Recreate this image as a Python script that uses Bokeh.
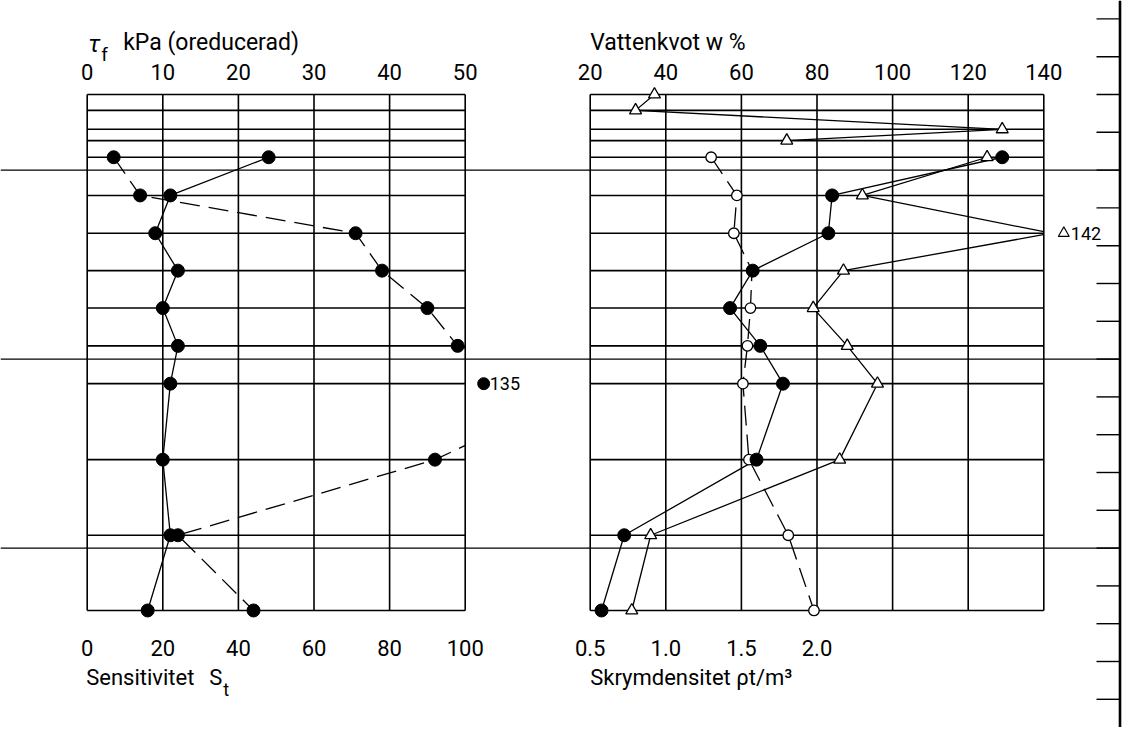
import numpy as np
from bokeh.plotting import figure
from bokeh.models import Range1d
from bokeh.core.properties import value
from bokeh.embed import file_html
from bokeh.resources import INLINE

# ---------------- data ----------------
grid_depths = [0.0, 0.42, 0.92, 1.22, 1.66, 2.67, 3.67, 4.66, 5.65, 6.65, 7.65, 9.66, 11.66, 13.65]
sample_depth = [1.66, 2.67, 3.67, 4.66, 5.65, 6.65, 7.65, 9.66, 11.66, 13.65]
tau_f = [24, 11, 9, 12, 10, 12, 11, 10, 11, 8]                    # kPa (oreducerad)
sensitivity = [7, 14, 71, 78, 90, 98, 135, 92, 24, 44]            # St
w_natural = [129, 84, 83, 63, 57, 65, 71, 64, 29, 23]             # w %
bulk_density = [1.30, 1.47, 1.45, 1.57, 1.56, 1.54, 1.51, 1.55, 1.81, 1.98]  # t/m3
wl_top_depth = [0.0, 0.42, 0.92, 1.22]
wl_top = [37, 32, 129, 72]
w_liquid = [125, 92, 142, 87, 79, 88, 96, 86, 36, 31]

tau_ticks = [0, 10, 20, 30, 40, 50]
st_ticks = [0, 20, 40, 60, 80, 100]
w_ticks = [20, 40, 60, 80, 100, 120, 140]
rho_ticks = [0.5, 1.0, 1.5, 2.0]
rho_tick_labels = ["0.5", "1.0", "1.5", "2.0"]
level_ticks = list(range(-3, 18))
level_lines = [2, 7, 12]

# ---------------- layout (pixels inside the figure) ----------------
W, H = 1125, 727
PX_M = 37.8          # px per metre
TOP = 94.0           # px of depth 0
LEFT_X0 = 86.7       # px of left panel start
RIGHT_X0 = 589.7     # px of right panel start
COL = 75.6           # px per grid column
OUT_PX = 18.5        # px beyond panel edge for off-scale markers
AXIS_PX = 1119.5     # right level axis
TICK_PX = 1096.0

tau_upp = 10 / COL
st_upp = 20 / COL
w_upp = 20 / COL
rho_upp = 0.5 / COL


def lin_range(v0, px0, upp):
    start = v0 - px0 * upp
    return Range1d(start, start + W * upp)


def w_at(px):
    return w_ticks[0] + (px - RIGHT_X0) * w_upp


def depth_at(px):
    return (px - TOP) / PX_M


bottom = grid_depths[-1]
y_top = depth_at(0)
y_bot = depth_at(H)

p = figure(width=W, height=H,
           x_range=lin_range(tau_ticks[0], LEFT_X0, tau_upp),
           y_range=Range1d(y_bot, y_top),
           output_backend="svg", toolbar_location=None, min_border=0,
           x_axis_location=None, y_axis_location=None,
           outline_line_color=None, background_fill_color="white",
           border_fill_color="white")
p.grid.visible = False
p.extra_x_ranges = {
    "st": lin_range(st_ticks[0], LEFT_X0, st_upp),
    "w": lin_range(w_ticks[0], RIGHT_X0, w_upp),
    "rho": lin_range(rho_ticks[0], RIGHT_X0, rho_upp),
}

LW = 1.3
DASH = "20 9"
FONT = value("Roboto")

# ---------------- left panel lines, then clip at its right edge ----------------
p.line(tau_f, sample_depth, line_color="black", line_width=LW)
p.line(sensitivity, sample_depth, x_range_name="st", line_color="black",
       line_width=LW, line_dash=DASH)
p.quad(left=[w_at(LEFT_X0 + 5 * COL)], right=[w_at(AXIS_PX - 3)],
       bottom=[bottom], top=[grid_depths[0]],
       x_range_name="w", fill_color="white", line_color=None)

# ---------------- right panel lines, then clip at its right edge ----------------
p.line(w_natural, sample_depth, x_range_name="w", line_color="black", line_width=LW)
p.line(bulk_density, sample_depth, x_range_name="rho", line_color="black",
       line_width=LW, line_dash=DASH)
p.line(wl_top, wl_top_depth, x_range_name="w", line_color="black", line_width=LW)
p.line(w_liquid, sample_depth, x_range_name="w", line_color="black", line_width=LW)
p.quad(left=[w_ticks[-1]], right=[w_at(AXIS_PX - 3)],
       bottom=[bottom], top=[grid_depths[0]],
       x_range_name="w", fill_color="white", line_color=None)

# ---------------- grids ----------------
GW = 1.6
p.segment(x0=tau_ticks, x1=tau_ticks, y0=[grid_depths[0]] * len(tau_ticks),
          y1=[bottom] * len(tau_ticks), line_color="black", line_width=GW)
p.segment(x0=[tau_ticks[0]] * len(grid_depths), x1=[tau_ticks[-1]] * len(grid_depths),
          y0=grid_depths, y1=grid_depths, line_color="black", line_width=GW)
p.segment(x0=w_ticks, x1=w_ticks, y0=[grid_depths[0]] * len(w_ticks),
          y1=[bottom] * len(w_ticks), x_range_name="w", line_color="black", line_width=GW)
p.segment(x0=[w_ticks[0]] * len(grid_depths), x1=[w_ticks[-1]] * len(grid_depths),
          y0=grid_depths, y1=grid_depths, x_range_name="w",
          line_color="black", line_width=GW)

# long level lines and right level axis
p.segment(x0=[w_at(0)] * len(level_lines), x1=[w_at(AXIS_PX)] * len(level_lines),
          y0=level_lines, y1=level_lines, x_range_name="w",
          line_color="black", line_width=1.3)
p.segment(x0=[w_at(TICK_PX)] * len(level_ticks), x1=[w_at(AXIS_PX)] * len(level_ticks),
          y0=level_ticks, y1=level_ticks, x_range_name="w",
          line_color="black", line_width=1.4)
p.segment(x0=[w_at(AXIS_PX)], x1=[w_at(AXIS_PX)], y0=[y_top], y1=[y_bot],
          x_range_name="w", line_color="black", line_width=2.6)

# ---------------- markers ----------------
p.scatter(tau_f, sample_depth, size=13, color="black")

depth_arr = np.array(sample_depth)
st = np.array(sensitivity, dtype=float)
st_in = st <= st_ticks[-1]
p.scatter(st[st_in], depth_arr[st_in], x_range_name="st", size=13, color="black")
st_out_x = st_ticks[-1] + OUT_PX * st_upp
n_st_out = int((~st_in).sum())
p.scatter([st_out_x] * n_st_out, depth_arr[~st_in], x_range_name="st", size=12, color="black")
p.text([st_out_x] * n_st_out, depth_arr[~st_in],
       text=[f"{v:g}" for v in st[~st_in]], x_range_name="st", x_offset=6,
       text_baseline="middle", text_align="left", text_font=FONT,
       text_font_size="18px", text_color="black")

p.scatter(bulk_density, sample_depth, x_range_name="rho", marker="circle", size=10.5,
          fill_color="white", line_color="black", line_width=LW)
p.scatter(w_natural, sample_depth, x_range_name="w", size=13, color="black")

p.scatter(wl_top, wl_top_depth, x_range_name="w", marker="triangle", size=12,
          fill_color="white", line_color="black", line_width=LW)
wl = np.array(w_liquid, dtype=float)
wl_in = wl <= w_ticks[-1]
p.scatter(wl[wl_in], depth_arr[wl_in], x_range_name="w", marker="triangle",
          size=12, fill_color="white", line_color="black", line_width=LW)
wl_out_x = w_ticks[-1] + (OUT_PX + 1.5) * w_upp
n_wl_out = int((~wl_in).sum())
p.scatter([wl_out_x] * n_wl_out, depth_arr[~wl_in],
          x_range_name="w", marker="triangle", size=11, fill_color="white",
          line_color="black", line_width=1.1)
p.text([wl_out_x] * n_wl_out, depth_arr[~wl_in],
       text=[f"{v:g}" for v in wl[~wl_in]], x_range_name="w", x_offset=7,
       text_baseline="middle", text_align="left", text_font=FONT,
       text_font_size="18px", text_color="black")

# ---------------- tick labels ----------------
TOP_LAB_Y = depth_at(71.5)
BOT_LAB_Y = depth_at(647)
NUM_FS = "22px"


def labels(xs, texts, y, rng):
    kw = {} if rng is None else {"x_range_name": rng}
    p.text(xs, [y] * len(xs), text=texts, text_align="center", text_baseline="middle",
           text_font=FONT, text_font_size=NUM_FS, text_color="black", **kw)


labels(tau_ticks, [str(t) for t in tau_ticks], TOP_LAB_Y, None)
labels(st_ticks, [str(t) for t in st_ticks], BOT_LAB_Y, "st")
labels(w_ticks, [str(t) for t in w_ticks], TOP_LAB_Y, "w")
labels(rho_ticks, rho_tick_labels, BOT_LAB_Y, "rho")

# ---------------- axis titles ----------------
TITLE_Y = depth_at(42)
BTITLE_Y = depth_at(677)
TFS = "23px"
common = dict(text_align="left", text_baseline="middle", text_font=FONT,
              text_color="black")
p.text([tau_ticks[0]], [depth_at(43)], text=["τ"], x_offset=1,
       text_font_size="24px", text_font_style="italic", **common)
p.text([tau_ticks[0]], [depth_at(54)], text=["f"], x_offset=14,
       text_font_size="19px", **common)
p.text([tau_ticks[0]], [TITLE_Y], text=["kPa (oreducerad)"], x_offset=36,
       text_font_size=TFS, **common)
p.text([w_ticks[0]], [TITLE_Y], text=["Vattenkvot w %"], x_range_name="w",
       text_font_size=TFS, **common)
p.text([st_ticks[0]], [BTITLE_Y], text=["Sensitivitet"], x_range_name="st",
       x_offset=-1, text_font_size="22px", **common)
p.text([st_ticks[0]], [BTITLE_Y], text=["S"], x_range_name="st",
       x_offset=122, text_font_size="22px", **common)
p.text([st_ticks[0]], [depth_at(689)], text=["t"], x_range_name="st",
       x_offset=136, text_font_size="18px", **common)
p.text([rho_ticks[0]], [BTITLE_Y], text=["Skrymdensitet ρt/m³"], x_range_name="rho",
       text_font_size="22px", **common)

open("out.html", "w").write(file_html(p, INLINE))
